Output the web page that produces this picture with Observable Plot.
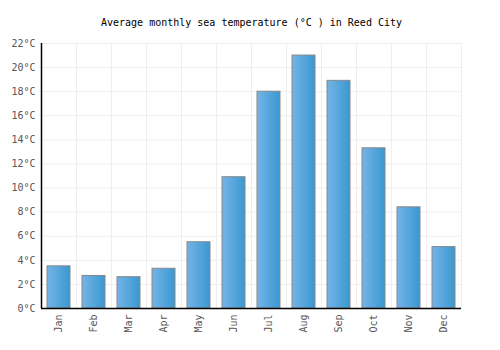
<!DOCTYPE html>
<html>
<head>
<meta charset="utf-8">
<script src="https://cdn.jsdelivr.net/npm/d3@7"></script>
<script src="https://cdn.jsdelivr.net/npm/@observablehq/plot@0.6"></script>
<style>
  html, body { margin: 0; padding: 0; background: #fff; }
</style>
</head>
<body>
<div id="chart"></div>
<script>
const title = "Average monthly sea temperature (°C ) in Reed City";
const months = ["Jan","Feb","Mar","Apr","May","Jun","Jul","Aug","Sep","Oct","Nov","Dec"];
const temps = [3.5, 2.7, 2.6, 3.3, 5.5, 10.9, 18.0, 21.0, 18.9, 13.3, 8.4, 5.1];
const yTicks = [0, 2, 4, 6, 8, 10, 12, 14, 16, 18, 20, 22];

const data = months.map((m, i) => ({month: m, temp: temps[i]}));

const chart = Plot.plot({
  width: 500,
  height: 350,
  marginTop: 43,
  marginLeft: 41,
  marginRight: 39,
  marginBottom: 42,
  style: {fontFamily: "'DejaVu Sans Mono', monospace", fontSize: "10px", color: "#555", background: "#fff"},
  x: {domain: months, paddingInner: 0.33, paddingOuter: 0.165, tickRotate: -90, tickSize: 0, tickPadding: 6, label: null},
  y: {domain: [0, 22], ticks: yTicks, tickFormat: d => d + "°C", tickSize: 0, tickPadding: 6, label: null},
  marks: [
    Plot.gridY(yTicks, {stroke: "#eee", strokeOpacity: 1}),
    Plot.ruleX(months, {x: d => d, dx: -17.5, stroke: "#eee", strokeOpacity: 1}),
    Plot.frame({stroke: "#eee"}),
    Plot.barY(data, {x: "month", y: "temp", fill: "url(#barGrad)", stroke: "#888", strokeWidth: 1}),
    Plot.ruleY([0], {stroke: "#000", strokeWidth: 1.5}),
    Plot.ruleX(["Jan"], {dx: -17.5, stroke: "#000", strokeWidth: 1.5}),
    Plot.text([title], {frameAnchor: "top", lineAnchor: "middle", dy: -21, fill: "#000", fontSize: 10})
  ]
});

const svgNS = "http://www.w3.org/2000/svg";
const defs = document.createElementNS(svgNS, "defs");
const grad = document.createElementNS(svgNS, "linearGradient");
grad.setAttribute("id", "barGrad");
grad.setAttribute("x1", "0"); grad.setAttribute("y1", "0");
grad.setAttribute("x2", "1"); grad.setAttribute("y2", "0");
[["0%", "#74b4e8"], ["100%", "#3a98d0"]].forEach(([o, c]) => {
  const s = document.createElementNS(svgNS, "stop");
  s.setAttribute("offset", o);
  s.setAttribute("stop-color", c);
  grad.appendChild(s);
});
defs.appendChild(grad);
chart.insertBefore(defs, chart.firstChild);

document.getElementById("chart").appendChild(chart);
</script>
</body>
</html>
